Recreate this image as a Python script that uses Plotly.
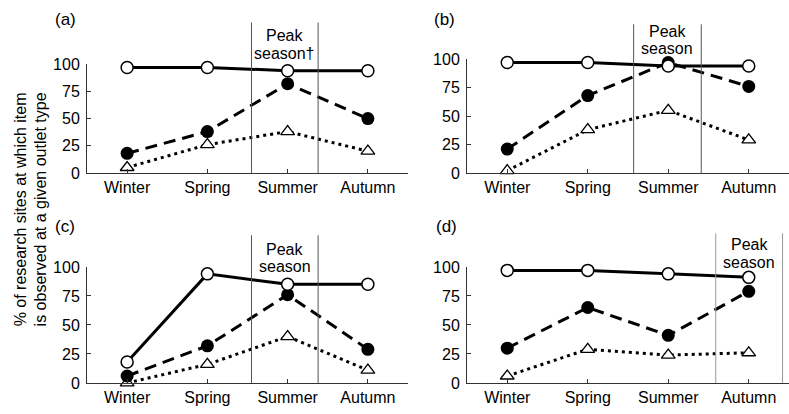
import plotly.graph_objects as go

seasons = ["Winter", "Spring", "Summer", "Autumn"]
y_ticks = [0, 25, 50, 75, 100]

# panel data: solid/open circle, dashed/filled circle, dotted/open triangle
a_solid = [97, 97, 94, 94]
a_dashed = [18, 38, 82, 50]
a_dotted = [5, 26, 38, 20]

b_solid = [97, 97, 94, 94]
b_dashed = [21, 68, 97, 76]
b_dotted = [2, 38, 55, 29]

c_solid = [18, 94, 85, 85]
c_dashed = [6, 32, 76, 29]
c_dotted = [0, 16, 40, 11]

d_solid = [97, 97, 94, 91]
d_dashed = [30, 65, 41, 79]
d_dotted = [6, 29, 24, 26]

# peak season bounds (category index units)
a_peak = [1.55, 2.38]
b_peak = [1.57, 2.41]
c_peak = [1.55, 2.38]
d_peak = [2.59, 3.42]

panel_labels = ["(a)", "(b)", "(c)", "(d)"]
peak_texts = [["Peak", "season†"], ["Peak", "season"], ["Peak", "season"], ["Peak", "season"]]

W, H = 789, 414
FONT = "Liberation Sans, Arial, Helvetica, sans-serif"
FS = 16

def px_x(p):
    return p / W

def px_y(p):
    return 1 - p / H

panels = [
    dict(solid=a_solid, dashed=a_dashed, dotted=a_dotted, peak=a_peak,
         xd=(87, 408), yd=(172, 58.6), vtop=15, ptxt=(29, 47), lab=(65, 12), vcol="#555"),
    dict(solid=b_solid, dashed=b_dashed, dotted=b_dotted, peak=b_peak,
         xd=(467, 789), yd=(172, 53.3), vtop=17, ptxt=(25, 42), lab=(444, 12), vcol="#555"),
    dict(solid=c_solid, dashed=c_dashed, dotted=c_dotted, peak=c_peak,
         xd=(87, 408), yd=(391, 270), vtop=237, ptxt=(252, 270), lab=(65, 228), vcol="#555"),
    dict(solid=d_solid, dashed=d_dashed, dotted=d_dotted, peak=d_peak,
         xd=(467, 789), yd=(391, 270), vtop=235, ptxt=(247, 265), lab=(446, 228), vcol="#999"),
]

fig = go.Figure()
shapes = []
annotations = []

for i, p in enumerate(panels):
    n = "" if i == 0 else str(i + 1)
    xa, ya = "x" + n, "y" + n
    # dotted triangles
    fig.add_trace(go.Scatter(
        x=seasons, y=p["dotted"], xaxis=xa, yaxis=ya, mode="lines+markers",
        line=dict(color="black", width=3, dash="3px,4px"),
        marker=dict(symbol="triangle-up", size=12, color="white",
                    line=dict(color="black", width=1.3)),
        cliponaxis=False, showlegend=False))
    # dashed filled circles
    fig.add_trace(go.Scatter(
        x=seasons, y=p["dashed"], xaxis=xa, yaxis=ya, mode="lines+markers",
        line=dict(color="black", width=3, dash="12px,7px"),
        marker=dict(symbol="circle", size=13, color="black",
                    line=dict(color="black", width=0)),
        cliponaxis=False, showlegend=False))
    # solid open circles
    fig.add_trace(go.Scatter(
        x=seasons, y=p["solid"], xaxis=xa, yaxis=ya, mode="lines+markers",
        line=dict(color="black", width=3),
        marker=dict(symbol="circle", size=12, color="white",
                    line=dict(color="black", width=1.5)),
        cliponaxis=False, showlegend=False))

    axis_common = dict(showgrid=False, zeroline=False, showline=True,
                       linecolor="#333", linewidth=1, ticks="inside",
                       ticklen=4, tickcolor="#333",
                       tickfont=dict(family=FONT, size=FS, color="black"))
    fig.update_layout(**{
        ("xaxis" + n): dict(axis_common, domain=[px_x(p["xd"][0]), px_x(p["xd"][1])],
                             range=[-0.5, 3.5], type="category",
                             categoryorder="array", categoryarray=seasons,
                             anchor=ya),
        ("yaxis" + n): dict(axis_common, domain=[px_y(p["yd"][0]), px_y(p["yd"][1])],
                             range=[0, 100], tickvals=y_ticks, anchor=xa,
                             ticklabelstandoff=3),
    })
    for xv in p["peak"]:
        shapes.append(dict(type="line", xref=xa, yref="paper", x0=xv, x1=xv,
                           y0=px_y(p["yd"][0]), y1=px_y(p["vtop"]),
                           line=dict(color=p["vcol"], width=1)))
    mid = sum(p["peak"]) / 2
    for t, yy in zip(peak_texts[i], p["ptxt"]):
        annotations.append(dict(text=t, xref=xa, yref="paper", x=mid, y=px_y(yy),
                                xanchor="center", yanchor="middle", showarrow=False,
                                font=dict(family=FONT, size=FS, color="black")))
    annotations.append(dict(text=panel_labels[i], xref="paper", yref="paper",
                            x=px_x(p["lab"][0]), y=px_y(p["lab"][1]),
                            xanchor="center", yanchor="middle", showarrow=False,
                            font=dict(family=FONT, size=17, color="black")))

annotations.append(dict(text="% of research sites at which item<br>is observed at a given outlet type",
                        xref="paper", yref="paper", x=px_x(31), y=px_y(210),
                        xanchor="center", yanchor="middle", textangle=-90, showarrow=False,
                        font=dict(family=FONT, size=FS, color="black")))

fig.update_layout(width=W, height=H, margin=dict(l=0, r=0, t=0, b=0),
                  paper_bgcolor="white", plot_bgcolor="white",
                  shapes=shapes, annotations=annotations,
                  font=dict(family=FONT, color="black"))

fig.write_html("out.html", config={"displayModeBar": False},
               post_script="document.body.style.margin='0';document.body.style.padding='0';")
